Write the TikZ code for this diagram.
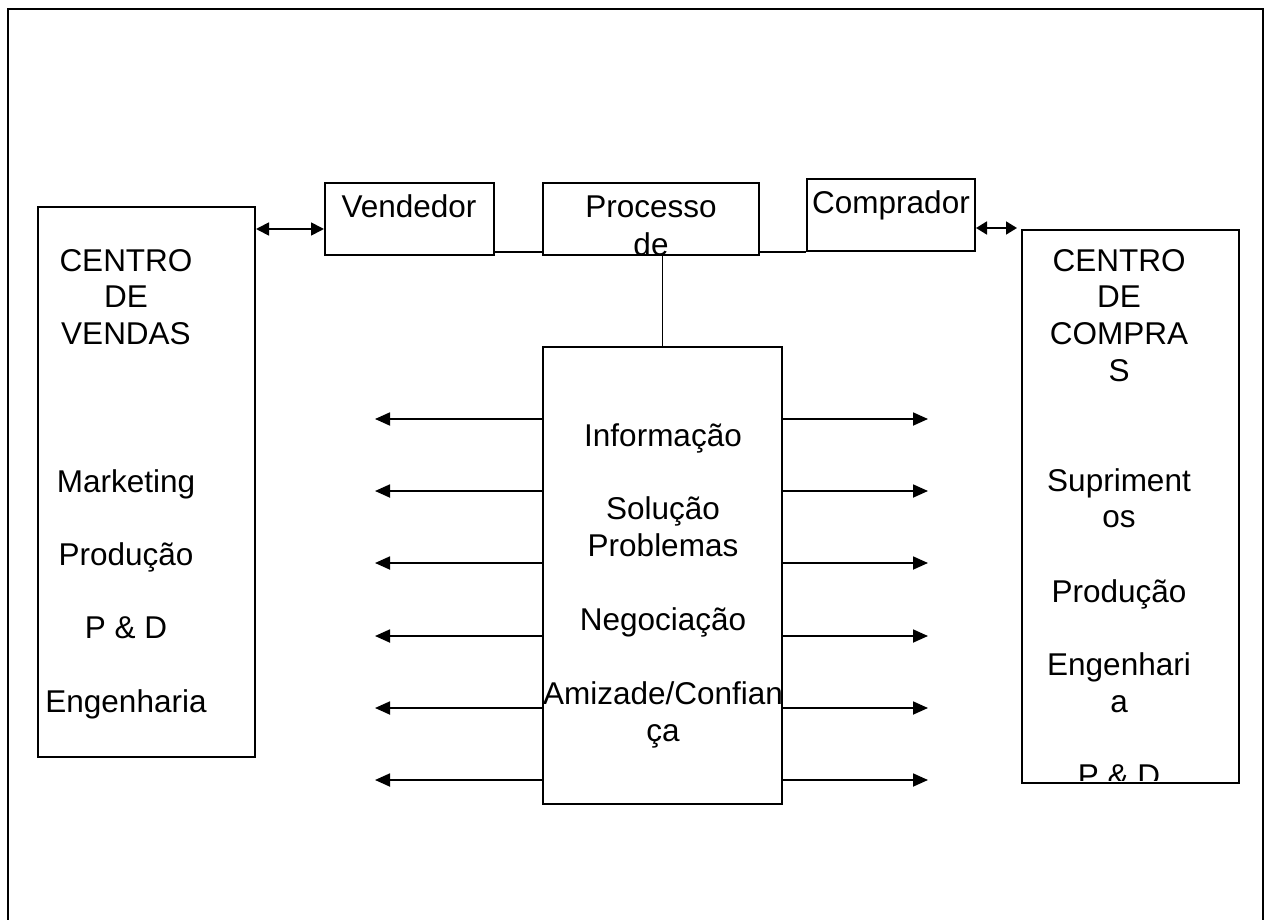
\documentclass[tikz,border=0pt]{standalone}
\usepackage{fontspec}
\setmainfont{Liberation Sans}
\usetikzlibrary{arrows.meta}

\tikzset{
  box/.style={draw, line width=2pt, inner sep=0pt},
  lbl/.style={anchor=base, inner sep=0pt, font=\fontsize{31.5}{36.6}\selectfont},
  conn/.style={line width=1.8pt},
  flow/.style={line width=1.8pt, -{Triangle[length=15pt,width=13pt]}},
  twoway/.style={line width=1.8pt, {Triangle[length=13pt,width=13pt]}-{Triangle[length=13pt,width=13pt]}},
  shortway/.style={line width=1.8pt, {Triangle[length=11pt,width=13pt]}-{Triangle[length=11pt,width=13pt]}},
}

\begin{document}
\begin{tikzpicture}[x=1pt, y=-1pt]
  \useasboundingbox (0,0) rectangle (1266,920);

  % page frame, open at the bottom
  \draw[line width=2.6pt] (8,920) -- (8,9) -- (1263,9) -- (1263,920);

  % boxes
  \node[box, minimum width=217pt, minimum height=550pt] (lbox) at (146.5,482) {};
  \node[box, minimum width=169pt, minimum height=72pt] (vend) at (409.5,219) {};
  \node[box, minimum width=216pt, minimum height=72pt] (proc) at (651,219) {};
  \node[box, minimum width=168pt, minimum height=72pt] (comp) at (891,215) {};
  \node[box, minimum width=217pt, minimum height=553pt] (rbox) at (1130.5,506.5) {};
  \node[box, minimum width=239pt, minimum height=457pt] (cbox) at (662.5,575.5) {};

  % box labels
  \node[lbl] (tvend) at (409,218) {Vendedor};
  \node[lbl] (tproc1) at (651,218) {Processo};
  \node[lbl] (tproc2) at (651,255) {de};
  \node[lbl] (tcomp) at (891,214) {Comprador};

  \foreach \t/\y [count=\i] in {CENTRO/271, DE/307.6, VENDAS/344,
      Marketing/492, Produção/565, P \& D/638, Engenharia/712}
    \node[lbl] (ltxt\i) at (126,\y) {\t};

  \foreach \t/\y [count=\i] in {Informação/446, Solução/519, Problemas/556,
      Negociação/630, {Amizade/Confian}/704, ça/741}
    \node[lbl] (ctxt\i) at (663,\y) {\t};

  \begin{scope}
    \clip (1023,231) rectangle (1238,780);
    \foreach \t/\y [count=\i] in {CENTRO/271, DE/307.6, COMPRA/344, S/381,
        Supriment/491, os/527.6, Produção/602, Engenhari/675, a/712, P \& D/786}
      \node[lbl] (rtxt\i) at (1119,\y) {\t};
  \end{scope}

  % top connectors
  \draw[conn] ([yshift=4pt]vend.south east) -- ([yshift=4pt]proc.south west);
  \draw[conn] ([yshift=4pt]proc.south east) -- (comp.south west);
  \draw[conn] (cbox.north) -- (cbox.north |- proc.south);

  \draw[twoway] ([yshift=-10pt]vend.west -| lbox.east) -- ([yshift=-10pt]vend.west);
  \draw[shortway, shorten >=4pt] ([yshift=-13pt]comp.east) -- ([yshift=-13pt]comp.east -| rbox.west);

  % outgoing arrows on both sides of the central box
  \foreach \y [count=\i] in {419, 491, 563, 636, 708, 780} {
    \coordinate (la\i) at (375,\y);
    \coordinate (ra\i) at (928,\y);
    \draw[flow] (la\i -| cbox.west) -- (la\i);
    \draw[flow] (ra\i -| cbox.east) -- (ra\i);
  }
\end{tikzpicture}
\end{document}
